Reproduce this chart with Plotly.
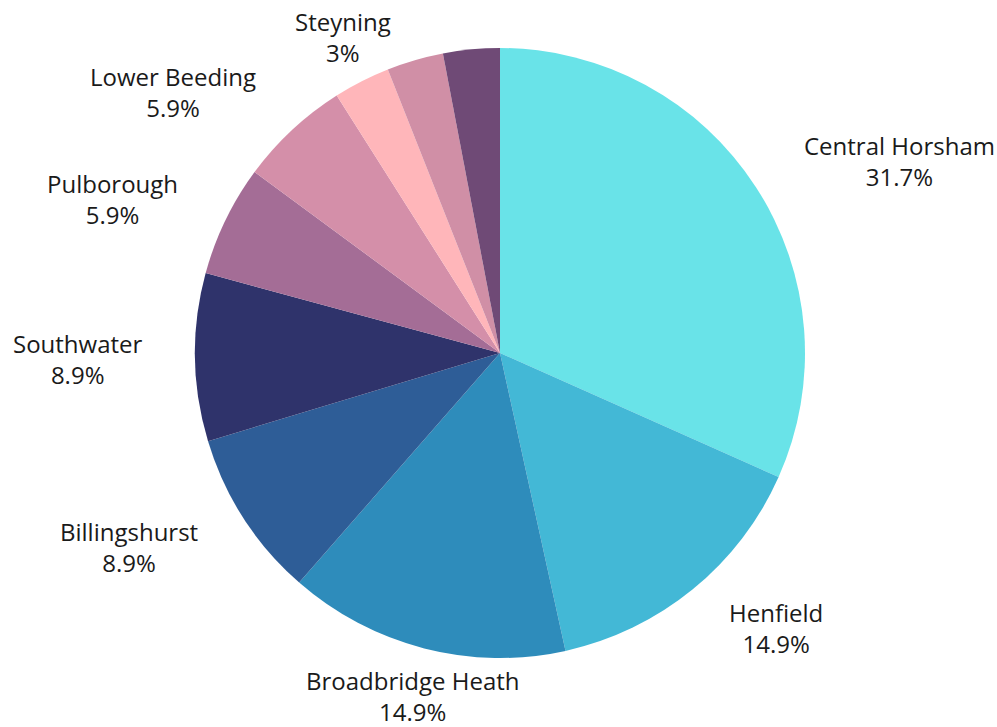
import math
import plotly.graph_objects as go

# Share of responses by area (percent); the last two slices carry no label
areas = ["Central Horsham", "Henfield", "Broadbridge Heath", "Billingshurst",
         "Southwater", "Pulborough", "Lower Beeding", "Steyning",
         "Cowfold", "Storrington"]
shares = [31.7, 14.9, 14.9, 8.9, 8.9, 5.9, 5.9, 3.0, 3.0, 3.0]
share_text = ["31.7%", "14.9%", "14.9%", "8.9%", "8.9%", "5.9%", "5.9%", "3%", "", ""]
show_label = [True] * 8 + [False, False]
colors = ["#69E3E8", "#43B8D6", "#2E8CBB", "#2E5D97", "#2F336B",
          "#A46D96", "#D48FA9", "#FFB6BA", "#D08FA6", "#6F4A76"]

W, H = 997, 727
CX, CY, R = 500, 353, 305  # pie centre and radius in pixels
LABEL_GAP = 40             # distance of the label anchor beyond the rim
# pixel offsets of each label centre from its anchor point on the mid angle
label_offsets = [(110, -4), (58, 8), (-1, 9), (-81, 7),
                 (-77, 1), (-77, -4), (-92, -9), (-1, -9), (0, 0), (0, 0)]

fig = go.Figure(go.Pie(
    labels=areas,
    values=shares,
    sort=False,
    direction="clockwise",
    rotation=0,
    marker=dict(colors=colors, line=dict(width=0)),
    textinfo="none",
    hoverinfo="label+percent",
    showlegend=False,
    domain=dict(x=[(CX - R) / W, (CX + R) / W],
                y=[(H - CY - R) / H, (H - CY + R) / H]),
))

# Outside labels placed along each slice's mid angle
total = sum(shares)
annotations = []
cum = 0.0
for name, val, txt, show, (dx, dy) in zip(areas, shares, share_text,
                                          show_label, label_offsets):
    mid = (cum + val / 2) / total * 2 * math.pi
    cum += val
    if not show:
        continue
    px = CX + (R + LABEL_GAP) * math.sin(mid) + dx
    py = CY - (R + LABEL_GAP) * math.cos(mid) + dy
    annotations.append(dict(
        x=px / W, y=(H - py) / H, xref="paper", yref="paper",
        text=f"{name}<br>{txt}", showarrow=False,
        xanchor="center", yanchor="middle", align="center",
        font=dict(family="Open Sans", size=24, color="#1a1a1a"),
    ))

fig.update_layout(
    width=W, height=H,
    margin=dict(l=0, r=0, t=0, b=0),
    paper_bgcolor="white",
    plot_bgcolor="white",
    annotations=annotations,
)

fig.write_html("out.html")
